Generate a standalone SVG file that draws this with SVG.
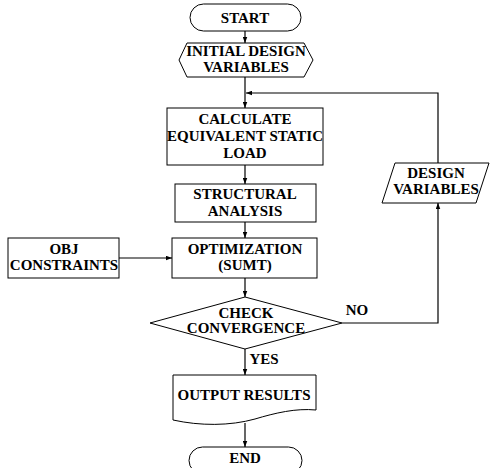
<svg xmlns="http://www.w3.org/2000/svg" width="490" height="468" viewBox="0 0 490 468">
<defs>
<style>
.s{fill:#fff;stroke:#000;stroke-width:1}
.t{font-family:'Liberation Serif','Times New Roman',serif;font-weight:bold;font-size:15px;text-anchor:middle;fill:#000}
.l{fill:none;stroke:#000;stroke-width:1.2}
</style>
<marker id="a" viewBox="0 0 8 6" refX="8" refY="3" markerWidth="6" markerHeight="5" orient="auto" markerUnits="userSpaceOnUse"><path d="M0,0 L8,3 L0,6 z" fill="#000"/></marker>
</defs>
<rect width="490" height="468" fill="#fff"/>
<g id="connectors">
<path class="l" d="M245,31 V43" marker-end="url(#a)"/>
<path class="l" d="M245,77 V108" marker-end="url(#a)"/>
<path class="l" d="M438,163 V93 H246" marker-end="url(#a)"/>
<path class="l" d="M245,165 V184" marker-end="url(#a)"/>
<path class="l" d="M245,222 V238" marker-end="url(#a)"/>
<path class="l" d="M119,258 H172" marker-end="url(#a)"/>
<path class="l" d="M245,278 V297" marker-end="url(#a)"/>
<path class="l" d="M342,323 H438 V203" marker-end="url(#a)"/>
<path class="l" d="M245,349 V375" marker-end="url(#a)"/>
<path class="l" d="M245,423 V447" marker-end="url(#a)"/>
</g>
<g id="start">
<rect class="s" x="190" y="4" width="111" height="27" rx="13.5"/>
<text class="t" x="245" y="23">START</text>
</g>
<g id="initial">
<path class="s" d="M179,60 L187,43 H304 L313,60 L304,77 H187 z"/>
<text class="t" x="246" y="56">INITIAL DESIGN</text>
<text class="t" x="246" y="72">VARIABLES</text>
</g>
<g id="calculate">
<rect class="s" x="167" y="108" width="156" height="57"/>
<text class="t" x="245" y="124">CALCULATE</text>
<text class="t" x="245" y="141">EQUIVALENT STATIC</text>
<text class="t" x="245" y="158">LOAD</text>
</g>
<g id="structural">
<rect class="s" x="175" y="184" width="141" height="38"/>
<text class="t" x="245" y="199">STRUCTURAL</text>
<text class="t" x="245" y="216">ANALYSIS</text>
</g>
<g id="obj">
<rect class="s" x="8" y="238" width="111" height="40"/>
<text class="t" x="64" y="254">OBJ</text>
<text class="t" x="64" y="270">CONSTRAINTS</text>
</g>
<g id="optimization">
<rect class="s" x="172" y="238" width="145" height="40"/>
<text class="t" x="245" y="254">OPTIMIZATION</text>
<text class="t" x="245" y="270">(SUMT)</text>
</g>
<g id="check">
<path class="s" d="M245,297 L342,323 L245,349 L150,323 z"/>
<text class="t" x="246" y="318">CHECK</text>
<text class="t" x="246" y="333">CONVERGENCE</text>
</g>
<g id="design">
<path class="s" d="M395,163 H489 L476,203 H382 z"/>
<text class="t" x="436" y="178">DESIGN</text>
<text class="t" x="436" y="194">VARIABLES</text>
</g>
<text class="t" x="357" y="315">NO</text>
<text class="t" x="264" y="364">YES</text>
<g id="output">
<path class="s" d="M173,375 H316 V410 C296,408 275,413 255,419 C230,426 200,426 173,420 z"/>
<text class="t" x="244" y="400">OUTPUT RESULTS</text>
</g>
<g id="end">
<rect class="s" x="189" y="447" width="113" height="27" rx="13.5"/>
<text class="t" x="245" y="463">END</text>
</g>
</svg>
